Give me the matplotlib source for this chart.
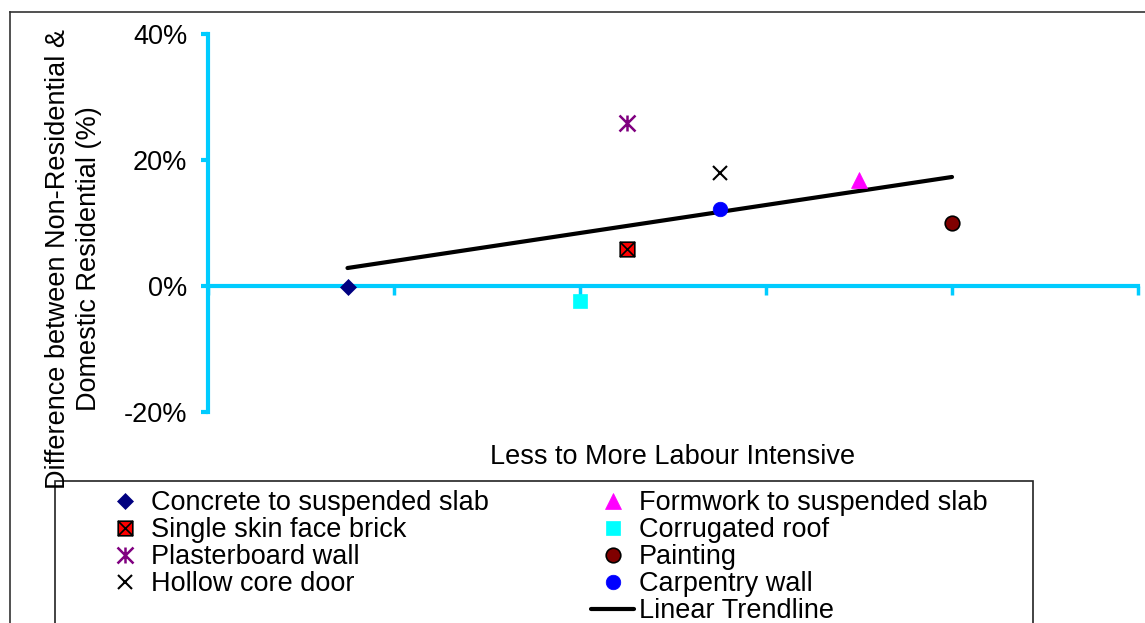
"""Labour intensity scatter: Non-Residential vs Domestic Residential difference"""
import numpy as np
import matplotlib
matplotlib.use('Agg')
import matplotlib.pyplot as plt
from matplotlib.path import Path
from matplotlib.lines import Line2D
from matplotlib.patches import Rectangle

plt.rcParams['font.family'] = ['Liberation Sans', 'DejaVu Sans']

W, H = 1145, 623
FS = 19.5
AXIS_COLOR = '#00CCFF'

# data (x = position on the less -> more labour intensive scale, y = % difference)
trades = ['Concrete to suspended slab', 'Single skin face brick', 'Plasterboard wall',
          'Hollow core door', 'Formwork to suspended slab', 'Corrugated roof',
          'Painting', 'Carpentry wall']
intensity = [15, 45, 45, 55, 70, 40, 80, 55]
diff_pct = [-0.2, 5.9, 25.9, 17.9, 16.8, -2.4, 10.0, 12.3]
y_ticks = [-20, 0, 20, 40]
x_ticks = [0, 20, 40, 60, 80, 100]
trend_label = 'Linear Trendline'

# custom markers
square_x = Path([(-1, -1), (1, -1), (1, 1), (-1, 1), (-1, -1),
                 (-1, -1), (1, 1), (-1, 1), (1, -1)],
                [Path.MOVETO, Path.LINETO, Path.LINETO, Path.LINETO, Path.CLOSEPOLY,
                 Path.MOVETO, Path.LINETO, Path.MOVETO, Path.LINETO])
asterisk = Path([(-1, -1), (1, 1), (-1, 1), (1, -1), (0, -1), (0, 1)],
                [Path.MOVETO, Path.LINETO, Path.MOVETO, Path.LINETO, Path.MOVETO, Path.LINETO])

styles = [
    dict(marker='D', ms=8, mfc='#000080', mec='#000080', mew=0.5),
    dict(marker=square_x, ms=10.5, mfc='#FF0000', mec='black', mew=1.2),
    dict(marker=asterisk, ms=11.5, mfc='none', mec='#800080', mew=1.8),
    dict(marker='x', ms=10.5, mfc='none', mec='black', mew=1.5),
    dict(marker='^', ms=11, mfc='#FF00FF', mec='#FF00FF', mew=0.5),
    dict(marker='s', ms=10.5, mfc='#00FFFF', mec='#00FFFF', mew=0.5),
    dict(marker='o', ms=10.5, mfc='#800000', mec='black', mew=1.2),
    dict(marker='o', ms=10.5, mfc='#0000FF', mec='#0000FF', mew=0.5),
]

fig = plt.figure(figsize=(W / 100, H / 100), dpi=100)
ax = fig.add_axes([208 / W, 1 - 412 / H, 930 / W, 378 / H])
ax.set_facecolor('none')

handles = []
for name, xv, yv, st in zip(trades, intensity, diff_pct, styles):
    h, = ax.plot([xv], [yv], linestyle='none', label=name, clip_on=False, zorder=4, **st)
    handles.append(h)

# linear trendline across the data
coef = np.polyfit(intensity, diff_pct, 1)
tx = np.array([min(intensity), max(intensity)])
trend, = ax.plot(tx, np.polyval(coef, tx), color='black', lw=3, solid_capstyle='round',
                 label=trend_label, zorder=3)

ax.set_xlim(0, 100)
ax.set_ylim(-20, 40)
ax.set_xticks(x_ticks)
ax.set_yticks(y_ticks)
ax.set_yticklabels([f'{v}%' for v in y_ticks])

for s in ['top', 'right']:
    ax.spines[s].set_visible(False)
ax.spines['left'].set_color(AXIS_COLOR)
ax.spines['left'].set_linewidth(3)
ax.spines['bottom'].set_position(('data', 0))
ax.spines['bottom'].set_color(AXIS_COLOR)
ax.spines['bottom'].set_linewidth(3)
ax.tick_params(axis='y', direction='out', length=5, width=3, color=AXIS_COLOR,
               pad=10, labelsize=FS)
ax.tick_params(axis='x', direction='out', length=6.5, width=2.5, color=AXIS_COLOR,
               labelbottom=False)

fig.text(673 / W, 1 - 457 / H, 'Less to More Labour Intensive', ha='center', va='center',
         fontsize=FS)
fig.text(74 / W, 1 - 259 / H, 'Difference between Non-Residential &\nDomestic Residential (%)',
         rotation=90, ha='center', va='center', multialignment='center', fontsize=FS,
         linespacing=1.25)

# chart area and legend frames
fig.add_artist(Line2D([10 / W, 1], [1 - 12 / H, 1 - 12 / H], transform=fig.transFigure,
                      color='#333333', lw=1.2))
fig.add_artist(Line2D([10 / W, 10 / W], [0, 1 - 12 / H], transform=fig.transFigure,
                      color='#333333', lw=1.2))
fig.add_artist(Rectangle((55 / W, -0.05), (1033 - 55) / W, 1 - 481 / H + 0.05,
                         transform=fig.transFigure, fill=False, ec='#222222', lw=1.2))

blank = Line2D([], [], linestyle='none', marker='none')
leg_handles = handles[:4] + [blank] + handles[4:] + [trend]
leg_labels = trades[:4] + [''] + trades[4:] + [trend_label]
fig.legend(leg_handles, leg_labels, loc='upper left', bbox_to_anchor=(103 / W, 1 - 490 / H),
           ncol=2, frameon=False, fontsize=FS, handlelength=1.6, handletextpad=0.17,
           columnspacing=3.77, labelspacing=0.04, borderpad=0, borderaxespad=0, numpoints=1)

fig.savefig('out.png', dpi=100)
plt.close(fig)
